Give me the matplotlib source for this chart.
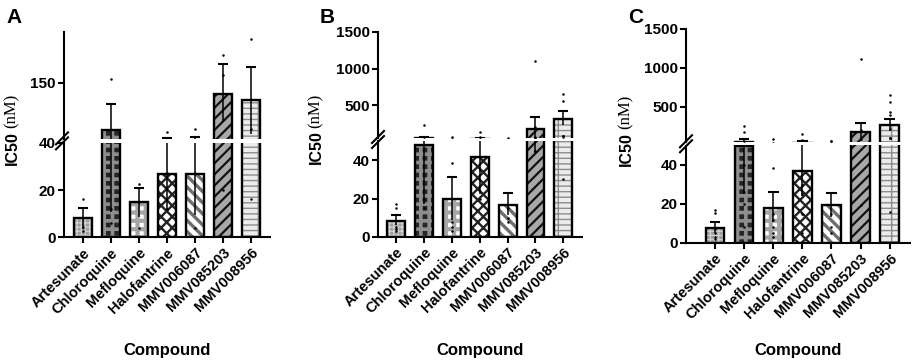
import matplotlib
matplotlib.use("Agg")
import matplotlib.pyplot as plt
from matplotlib.lines import Line2D

plt.rcParams["font.family"] = ["Liberation Sans", "DejaVu Sans"]
plt.rcParams["font.weight"] = "bold"

compounds = ["Artesunate", "Chloroquine", "Mefloquine", "Halofantrine",
             "MMV006087", "MMV085203", "MMV008956"]

# Panel A
a_mean = [8.0, 58, 14.8, 26.9, 26.8, 128.5, 115.6]
a_err_hi = [12.3, 107.8, 21.0, 42, 43, 186.5, 181]
a_err_lo = [3.7, 10.8, 8.6, 11.7, 9.4, 72.6, 50]
a_dots = [[16.2, 4.5, 2.5], [157, 12, 6], [22.7, 15, 4], [53.7, 27, 12],
          [60, 27, 4], [204, 165.6, 20], [236.7, 16, 60]]

# Panel B
b_mean = [8.5, 47.7, 19.7, 41.5, 16.6, 177, 310]
b_err_hi = [11.2, 68, 31.5, 55, 23.0, 341, 419]
b_err_lo = [6.0, 17, 9.0, 22.3, 11.2, 43.6, 228]
b_dots = [[17, 15.3, 5, 3, 4], [228, 60, 20, 15], [68, 38.7, 8, 5, 3],
          [136, 62, 35, 20], [55, 15, 10, 8], [1107, 200, 60, 45],
          [648, 556, 77, 77, 77, 30]]

# Panel C
c_mean = [7.7, 50, 18.1, 36.9, 19.5, 178, 264]
c_err_hi = [10.9, 84.7, 26.2, 62.8, 25.8, 290, 341]
c_err_lo = [5.0, 25, 10.8, 24, 13.5, 61, 190]
c_dots = [[17, 15.5, 5, 3, 2, 7], [250, 180, 26, 20, 8, 40],
          [88.5, 38.5, 12, 8, 5, 3, 15], [152.7, 75.7, 25, 30, 5, 15],
          [62.8, 62.8, 15, 8, 5], [1112, 200, 90, 19.5],
          [653, 567, 439, 397, 217, 101, 101, 101, 16]]

# fill, hatch, hatch colour, hatch width
styles = [
    ("#9c9c9c", "++++", "#d2d2d2", 0.9),
    ("#262626", "++", "#8e8e8e", 2.6),
    ("#ffffff", "++", "#a5a5a5", 3.0),
    ("#ffffff", "xxx", "#222222", 1.7),
    ("#ffffff", "\\\\\\", "#6e6e6e", 2.4),
    ("#a8a8a8", "///", "#111111", 1.6),
    ("#ececec", "---|", "#8c8c8c", 1.0),
]

W, H = 913, 364
fig = plt.figure(figsize=(W / 100, H / 100), dpi=100)


def fbox(left, right, top, bottom):
    return [left / W, 1 - bottom / H, (right - left) / W, (bottom - top) / H]


def draw_bars(ax, mean, hi, lo, dots):
    x = list(range(len(compounds)))
    for i in x:
        face, hatch, hcol, hw = styles[i]
        with plt.rc_context({"hatch.linewidth": hw}):
            ax.bar(i, mean[i], width=0.64, color=face, hatch=hatch,
                   edgecolor=hcol, linewidth=0, zorder=2)
    ax.bar(x, mean, width=0.64, fill=False, edgecolor="black",
           linewidth=1.7, zorder=3)
    ax.vlines(x, lo, hi, color="black", linewidth=1.1, zorder=4)
    ax.hlines(hi, [i - 0.18 for i in x], [i + 0.18 for i in x],
              color="black", linewidth=1.5, zorder=4)
    for i in x:
        ax.plot([i] * len(dots[i]), dots[i], "o", color="black",
                markersize=1.8, markeredgewidth=0, zorder=5)


def panel(letter, left, right, up_top, up_bot, lo_top, lo_bot, up_lim, lo_lim,
          up_ticks, lo_ticks, xlim, mean, hi, lo, dots, ylab_x, mark_x):
    ax_up = fig.add_axes(fbox(left, right, up_top, up_bot))
    ax_lo = fig.add_axes(fbox(left, right, lo_top, lo_bot))
    for ax in (ax_up, ax_lo):
        draw_bars(ax, mean, hi, lo, dots)
        ax.set_xlim(*xlim)
        ax.spines["top"].set_visible(False)
        ax.spines["right"].set_visible(False)
        ax.spines["left"].set_linewidth(1.5)
        ax.spines["bottom"].set_linewidth(1.5)
        ax.tick_params(width=1.5, length=4, labelsize=11, pad=2)
    ax_up.set_ylim(*up_lim)
    ax_lo.set_ylim(*lo_lim)
    ax_up.set_yticks(up_ticks)
    ax_lo.set_yticks(lo_ticks)
    ax_up.spines["bottom"].set_visible(False)
    ax_up.set_xticks([])
    ax_lo.set_xticks(range(len(compounds)))
    ax_lo.set_xticklabels(compounds, rotation=45, ha="right",
                          rotation_mode="anchor", fontsize=10.5)

    # break marks on the y axis
    ym = (up_bot + lo_top) / 2
    for dy in (-2.5, 2.5):
        fig.add_artist(Line2D([(mark_x - 6) / W, (mark_x + 6) / W],
                              [1 - (ym + dy + 6) / H, 1 - (ym + dy - 6) / H],
                              color="black", linewidth=1.5))

    fig.text((left - 58) / W, 1 - 8 / H, letter, fontsize=15,
             fontweight="bold", va="top", ha="left")
    yc = 1 - (up_top + lo_bot) / 2 / H
    fig.text(ylab_x / W, yc + 4 / H, "IC50", rotation=90, fontsize=11.5,
             fontweight="bold", ha="center", va="top")
    fig.text(ylab_x / W, yc + 7 / H, "(nM)", rotation=90, fontsize=12,
             fontweight="normal", family="Liberation Serif",
             ha="center", va="bottom")
    fig.text((left + right) / 2 / W, 1 - 351 / H, "Compound", fontsize=12,
             fontweight="bold", ha="center", va="center")


panel("A", 64, 270, 32, 139, 142.7, 237.3, (40, 250), (0, 40),
      [150], [0, 20, 40], (-0.67, 6.67), a_mean, a_err_hi, a_err_lo, a_dots,
      12, 62)
panel("B", 378, 582, 32, 138, 141, 237, (50, 1500), (0, 50),
      [500, 1000, 1500], [0, 20, 40], (-0.65, 6.67),
      b_mean, b_err_hi, b_err_lo, b_dots, 316, 378)
panel("C", 686, 910, 29, 142, 145.5, 243, (50, 1500), (0, 50),
      [500, 1000, 1500], [0, 20, 40], (-1.0, 6.7),
      c_mean, c_err_hi, c_err_lo, c_dots, 626, 686)

fig.savefig("out.png", dpi=100)
